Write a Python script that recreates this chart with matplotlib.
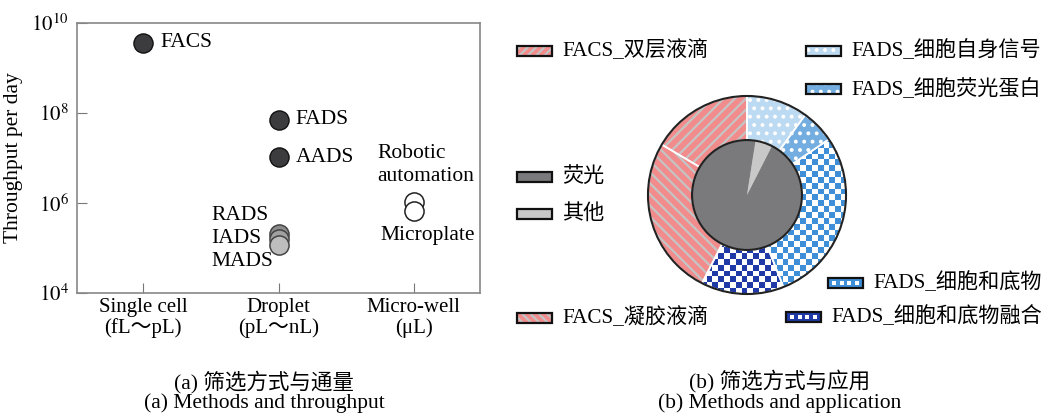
import numpy as np
import matplotlib
matplotlib.use("Agg")
from matplotlib import pyplot as plt
from matplotlib.patches import Rectangle, Circle
from matplotlib.colors import ListedColormap

plt.rcParams['font.family'] = ['Liberation Serif', 'Noto Sans CJK SC']
plt.rcParams['mathtext.fontset'] = 'stix'
plt.rcParams['hatch.linewidth'] = 1.6

# ---- (a) methods and throughput ----
methods = ['Single cell\n(fL～pL)', 'Droplet\n(pL～nL)', 'Micro-well\n(μL)']
dark_names = ['FACS', 'FADS', 'AADS']
dark_x = [0, 1, 1]
dark_y = [3.6e9, 7.0e7, 1.05e7]
drop_names = ['RADS', 'IADS', 'MADS']
drop_x = [1, 1, 1]
drop_y = [2.1e5, 1.6e5, 1.15e5]
well_names = ['Robotic\nautomation', 'Microplate']
well_x = [2, 2]
well_y = [1.05e6, 6.8e5]

# ---- (b) methods and application ----
inner_labels = ['其他', '荧光']
inner_vals = [5, 95]
outer_labels = ['FADS_细胞自身信号', 'FADS_细胞荧光蛋白', 'FADS_细胞和底物',
                'FADS_细胞和底物融合', 'FACS_凝胶液滴', 'FACS_双层液滴']
outer_vals = [10, 5.5, 28.5, 13.5, 26, 16.5]

W, H = 1053, 416
fig = plt.figure(figsize=(W / 100, H / 100), dpi=100)


def box(l, t, r, b):
    return [l / W, 1 - b / H, (r - l) / W, (b - t) / H]


ax = fig.add_axes(box(77, 23, 480, 293))
ax.set_yscale('log')
ax.set_ylim(1e4, 1e10)
ax.set_xlim(-0.49, 2.49)
ax.set_yticks([1e4, 1e6, 1e8, 1e10])
ax.set_yticklabels(['$10^{4}$', '$10^{6}$', '$10^{8}$', '$10^{10}$'])
ax.minorticks_off()
ax.set_xticks(range(len(methods)))
ax.set_xticklabels(methods, fontsize=15, linespacing=1.1)
ax.tick_params(axis='both', direction='in', length=7, color='#777777', labelsize=15)
ax.tick_params(axis='y', pad=6)
for s in ax.spines.values():
    s.set_color('#888888')
    s.set_linewidth(1.2)
ax.set_ylabel('Throughput per day', fontsize=15.5, labelpad=6)

ax.scatter(dark_x, dark_y, s=190, c='#3c3c3e', edgecolors='#111111', linewidths=1, zorder=3)
drop_faces = ['#8c8c8c', '#a0a0a0', '#bdbdbd']
for i in range(len(drop_names)):
    ax.scatter(drop_x[i], drop_y[i], s=190, c=drop_faces[i], edgecolors='#444444',
               linewidths=1.1, zorder=3 + i)
ax.scatter(well_x, well_y, s=190, facecolors='white', edgecolors='#222222', linewidths=1.1, zorder=3)

for i, n in enumerate(dark_names):
    ax.annotate(n, (dark_x[i], dark_y[i]), xytext=(17, 0), textcoords='offset pixels',
                fontsize=15.5, va='center', ha='left')
ax.annotate('\n'.join(drop_names), (drop_x[1], drop_y[1]), xytext=(-67, 0),
            textcoords='offset pixels', fontsize=15.5, va='center', ha='left', linespacing=1.28)
ax.annotate(well_names[0], (well_x[0], well_y[0]), xytext=(-36, 37),
            textcoords='offset pixels', fontsize=15.5, va='center', ha='left', linespacing=1.33)
ax.annotate(well_names[1], (well_x[1], well_y[1]), xytext=(-33, -25),
            textcoords='offset pixels', fontsize=15.5, va='center', ha='left')

# ---- donut ----
cx, cy, R = 747, 195, 101
pax = fig.add_axes(box(cx - R, cy - R, cx + R, cy + R))
ring_w = 0.445
r_in = 1 - ring_w

outer_face = ['#bcdaf2', '#74ade0', 'white', 'white', '#f28c8c', '#f28c8c']
outer_hatch = ['..', '..', None, None, '\\\\\\', '///']
outer_hcol = ['white', 'white', None, None, '#c4c4c4', '#c4c4c4']
wedges, _ = pax.pie(outer_vals, radius=1, startangle=90, counterclock=False,
                    wedgeprops=dict(width=ring_w, linewidth=0))
check_cols = {2: '#3f8fd8', 3: '#1f3aa6'}
n = 34
checker = np.add.outer(np.arange(n), np.arange(n)) % 2
for i, w in enumerate(wedges):
    w.set_facecolor(outer_face[i])
    if outer_hatch[i]:
        w.set_hatch(outer_hatch[i])
        w.set_edgecolor(outer_hcol[i])
    if i in check_cols:
        im = pax.imshow(checker, cmap=ListedColormap(['white', check_cols[i]]),
                        extent=(-1, 1, -1, 1), interpolation='nearest', zorder=2)
        im.set_clip_path(w)

# white separators between ring segments
pax.pie(outer_vals, radius=1, startangle=90, counterclock=False,
        wedgeprops=dict(width=ring_w, facecolor='none', edgecolor='white', linewidth=1.2, zorder=3))

inner_face = ['#c8c8c8', '#7a7a7c']
iw, _ = pax.pie(inner_vals, radius=r_in, startangle=63, counterclock=True,
                colors=inner_face, wedgeprops=dict(linewidth=0, zorder=4))
pax.add_patch(Circle((0, 0), 1, fill=False, edgecolor='#222222', linewidth=1.5, zorder=5))
pax.add_patch(Circle((0, 0), r_in, fill=False, edgecolor='#222222', linewidth=1.5, zorder=5))
pax.set_xlim(-1.02, 1.02)
pax.set_ylim(-1.02, 1.02)
pax.set_aspect('equal')
pax.axis('off')

# ---- legend (drawn by hand in pixel space) ----
lg = fig.add_axes([0, 0, 1, 1], zorder=-1)
lg.axis('off')

legend_items = [
    # label, patch left, center y, face, hatch, hatch colour, checker colour
    ('FACS_双层液滴', 517, 51, '#f28c8c', '////', '#c4c4c4', None),
    ('FADS_细胞自身信号', 806, 51, '#bcdaf2', '..', 'white', None),
    ('FADS_细胞荧光蛋白', 806, 89, '#74ade0', '..', 'white', None),
    ('荧光', 517, 177, '#7a7a7c', None, None, None),
    ('其他', 517, 214, '#c8c8c8', None, None, None),
    ('FADS_细胞和底物', 828, 283, 'white', None, None, '#3f8fd8'),
    ('FACS_凝胶液滴', 517, 318, '#f28c8c', '\\\\\\\\', '#c4c4c4', None),
    ('FADS_细胞和底物融合', 786, 317, 'white', None, None, '#1f3aa6'),
]
pw, ph = 35, 10
sq = np.array([[1, 1, 1, 1, 1, 1, 1, 1, 1],
               [1, 0, 1, 0, 1, 0, 1, 0, 1],
               [1, 1, 1, 1, 1, 1, 1, 1, 1]])
for lab, x0, yc, fc, hat, hc, cc in legend_items:
    if hat:
        lg.add_patch(Rectangle((x0, yc - ph / 2), pw, ph, facecolor=fc, hatch=hat,
                               edgecolor=hc, linewidth=0))
    else:
        lg.add_patch(Rectangle((x0, yc - ph / 2), pw, ph, facecolor=fc, linewidth=0))
    if cc:
        lg.imshow(sq, cmap=ListedColormap(['white', cc]), interpolation='nearest',
                  extent=(x0, x0 + pw, yc + ph / 2, yc - ph / 2), aspect='auto', zorder=2)
    lg.add_patch(Rectangle((x0, yc - ph / 2), pw, ph, fill=False, edgecolor='#111111',
                           linewidth=1.6, zorder=3))
    lg.text(x0 + pw + 10, yc, lab, fontsize=15.2, va='center', ha='left')
lg.set_xlim(0, W)
lg.set_ylim(H, 0)

# ---- captions ----
cap = dict(fontsize=15.5, ha='center', va='center')
fig.text(264 / W, 1 - 382 / H, '(a) 筛选方式与通量', **cap)
fig.text(264 / W, 1 - 403 / H, '(a) Methods and throughput', **cap)
fig.text(780 / W, 1 - 382 / H, '(b) 筛选方式与应用', **cap)
fig.text(780 / W, 1 - 403 / H, '(b) Methods and application', **cap)

fig.savefig('out.png', dpi=100)
